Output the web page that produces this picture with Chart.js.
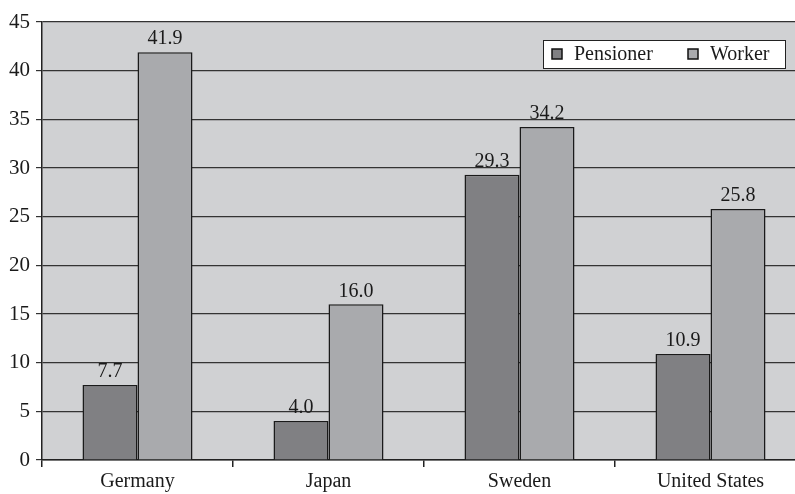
<!DOCTYPE html>
<html>
<head>
<meta charset="utf-8">
<script src="https://cdn.jsdelivr.net/npm/chart.js@4"></script>
<style>
    html, body { margin: 0; padding: 0; background: #fff; overflow: hidden; }
    #wrap { width: 806px; height: 494px; }
</style>
</head>
<body>
<div id="wrap"><canvas id="grafico"></canvas></div>
<script>
    // Dados do gráfico
    const paises = ['Germany', 'Japan', 'Sweden', 'United States'];
    const pensioner = [7.7, 4.0, 29.3, 10.9];
    const worker = [41.9, 16.0, 34.2, 25.8];
    const yTicks = [0, 5, 10, 15, 20, 25, 30, 35, 40, 45];

    const fonte = '"Liberation Serif", "DejaVu Serif", serif';

    // Fundo cinza da área do gráfico
    const fundoPlugin = {
        id: 'fundo',
        beforeDraw(chart) {
            const { ctx, chartArea: a } = chart;
            ctx.save();
            ctx.fillStyle = '#d0d1d3';
            ctx.fillRect(a.left, a.top, a.right - a.left, a.bottom - a.top);
            ctx.restore();
        }
    };

    // Rótulos de valor acima das barras
    const rotulosPlugin = {
        id: 'rotulos',
        afterDatasetsDraw(chart) {
            const { ctx } = chart;
            ctx.save();
            ctx.font = '20px ' + fonte;
            ctx.fillStyle = '#1a1a1a';
            ctx.textAlign = 'center';
            ctx.textBaseline = 'bottom';
            chart.data.datasets.forEach((ds, i) => {
                chart.getDatasetMeta(i).data.forEach((bar, j) => {
                    ctx.fillText(ds.data[j].toFixed(1), bar.x, bar.y - 3);
                });
            });
            ctx.restore();
        }
    };

    // Legenda dentro da área, canto superior direito
    const legendaPlugin = {
        id: 'legenda',
        afterDraw(chart) {
            const { ctx } = chart;
            const x0 = 543, y0 = 40, w = 242, h = 28;
            ctx.save();
            ctx.fillStyle = '#fff';
            ctx.fillRect(x0, y0, w, h);
            ctx.strokeStyle = '#222';
            ctx.lineWidth = 1;
            ctx.strokeRect(x0 + 0.5, y0 + 0.5, w, h);
            ctx.font = '20px ' + fonte;
            ctx.textBaseline = 'middle';
            const posicoes = [552, 688];
            chart.data.datasets.forEach((ds, i) => {
                const x = posicoes[i];
                ctx.fillStyle = ds.backgroundColor;
                ctx.fillRect(x, y0 + 9, 10, 10);
                ctx.strokeStyle = '#111';
                ctx.lineWidth = 1.5;
                ctx.strokeRect(x, y0 + 9, 10, 10);
                ctx.fillStyle = '#1a1a1a';
                ctx.fillText(ds.label, x + 22, y0 + 15);
            });
            ctx.restore();
        }
    };

    new Chart(document.getElementById('grafico'), {
        type: 'bar',
        data: {
            labels: paises,
            datasets: [
                {
                    label: 'Pensioner',
                    data: pensioner,
                    backgroundColor: '#808083',
                    borderColor: '#1a1a1a',
                    borderWidth: 1.5,
                    barPercentage: 1,
                    categoryPercentage: 0.576
                },
                {
                    label: 'Worker',
                    data: worker,
                    backgroundColor: '#a9aaad',
                    borderColor: '#1a1a1a',
                    borderWidth: 1.5,
                    barPercentage: 1,
                    categoryPercentage: 0.576
                }
            ]
        },
        options: {
            responsive: true,
            maintainAspectRatio: false,
            animation: false,
            layout: { padding: { top: 22, right: 0, left: 0, bottom: 0 } },
            plugins: {
                legend: { display: false },
                tooltip: { enabled: false }
            },
            scales: {
                x: {
                    grid: {
                        offset: true,
                        drawOnChartArea: false,
                        drawTicks: true,
                        tickLength: 7,
                        color: '#222',
                        lineWidth: 1.5
                    },
                    border: { color: '#222', width: 1.5 },
                    ticks: {
                        color: '#1a1a1a',
                        font: { family: fonte, size: 20 },
                        padding: 3
                    },
                    afterFit(scale) { scale.height = 34; }
                },
                y: {
                    min: 0,
                    max: 45,
                    afterBuildTicks(scale) {
                        scale.ticks = yTicks.map(v => ({ value: v }));
                    },
                    grid: {
                        color: '#333',
                        lineWidth: 1.2,
                        tickLength: 6
                    },
                    border: { color: '#222', width: 1.5 },
                    ticks: {
                        color: '#1a1a1a',
                        font: { family: fonte, size: 21 },
                        padding: 6
                    },
                    afterFit(scale) { scale.width = 42; }
                }
            }
        },
        plugins: [fundoPlugin, rotulosPlugin, legendaPlugin]
    });
</script>
</body>
</html>
